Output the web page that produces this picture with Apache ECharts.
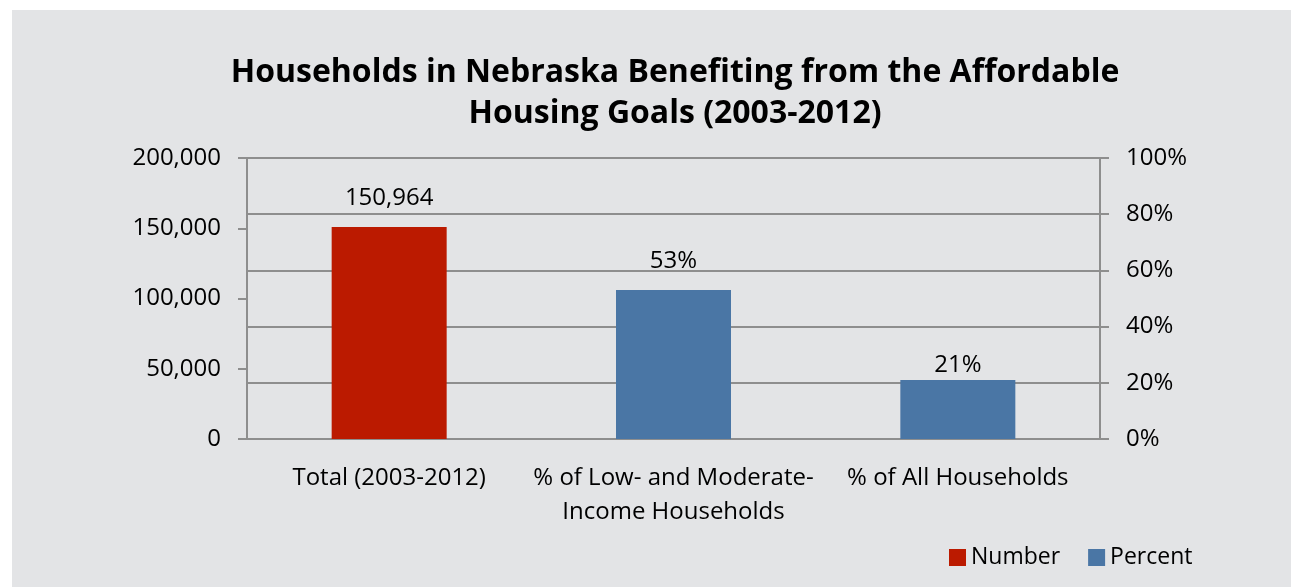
<!DOCTYPE html>
<html><head><meta charset="utf-8">
<script src="https://cdn.jsdelivr.net/npm/echarts@6/dist/echarts.min.js"></script>
<style>html,body{margin:0;padding:0;background:#fff;}#c{width:1291px;height:587px;}</style>
</head><body><div id="c"></div>
<script>
var categories = ['Total (2003-2012)', '% of Low- and Moderate-\nIncome Households', '% of All Households'];
var numberValues = [150964, null, null];
var percentValues = [null, 53, 21];
var leftTicks = {min: 0, max: 200000, interval: 50000};
var rightTicks = {min: 0, max: 100, interval: 20};
var titleText = 'Households in Nebraska Benefiting from the Affordable\nHousing Goals (2003-2012)';

var FONT = '"Open Sans", "Liberation Sans", sans-serif';
var AXIS = '#8e8e8e';
var FS = 24;
var labelDist = [17, 17, 3];
var percentData = percentValues.map(function (v, i) {
  return {value: v, label: {distance: labelDist[i]}};
});
var chart = echarts.init(document.getElementById('c'));
chart.setOption({
  animation: false,
  backgroundColor: '#ffffff',
  graphic: [
    {type: 'rect', z: -10, silent: true, shape: {x: 12, y: 10, width: 1291, height: 600}, style: {fill: '#e3e4e6'}},
    {type: 'text', silent: true, x: 675, y: 52,
      style: {text: titleText, align: 'center', verticalAlign: 'top', fill: '#000',
        fontFamily: FONT, fontWeight: 'bold', fontSize: 32, lineHeight: 41}}
  ],
  legend: {
    left: 944, top: 541, itemWidth: 17, itemHeight: 17, itemGap: 28,
    icon: 'rect',
    textStyle: {fontFamily: FONT, fontSize: 23, color: '#000'},
    data: ['Number', 'Percent']
  },
  grid: {left: 247, right: 191, top: 158, bottom: 148},
  xAxis: {
    type: 'category', data: categories,
    axisLine: {lineStyle: {color: AXIS, width: 2}},
    axisTick: {length: 7, lineStyle: {color: AXIS, width: 2}},
    axisLabel: {fontFamily: FONT, fontSize: FS, color: '#000', margin: 22, lineHeight: 34, interval: 0}
  },
  yAxis: [{
    type: 'value', min: leftTicks.min, max: leftTicks.max, interval: leftTicks.interval, position: 'left',
    axisLine: {show: true, lineStyle: {color: AXIS, width: 2}},
    axisTick: {show: true, length: 9, lineStyle: {color: AXIS, width: 2}},
    splitLine: {show: false},
    axisLabel: {fontFamily: FONT, fontSize: FS, color: '#000', margin: 26,
      formatter: function (v) { return v.toLocaleString('en-US'); }}
  }, {
    type: 'value', min: rightTicks.min, max: rightTicks.max, interval: rightTicks.interval, position: 'right',
    axisLine: {show: true, lineStyle: {color: AXIS, width: 2}},
    axisTick: {show: true, length: 9, lineStyle: {color: AXIS, width: 2}},
    splitLine: {show: true, lineStyle: {color: AXIS, width: 2}},
    axisLabel: {fontFamily: FONT, fontSize: FS, color: '#000', margin: 26, formatter: '{value}%'}
  }],
  series: [{
    name: 'Number', type: 'bar', yAxisIndex: 0, data: numberValues, barWidth: 115, barGap: '-100%',
    itemStyle: {color: '#bb1a00'},
    label: {show: true, position: 'top', distance: 17, fontFamily: FONT, fontSize: FS, color: '#000',
      formatter: function (p) { return p.value.toLocaleString('en-US'); }}
  }, {
    name: 'Percent', type: 'bar', yAxisIndex: 1, data: percentData, barWidth: 115, barGap: '-100%',
    itemStyle: {color: '#4a76a5'},
    label: {show: true, position: 'top', distance: 17, fontFamily: FONT, fontSize: FS, color: '#000', formatter: '{c}%'}
  }]
});
</script></body></html>
